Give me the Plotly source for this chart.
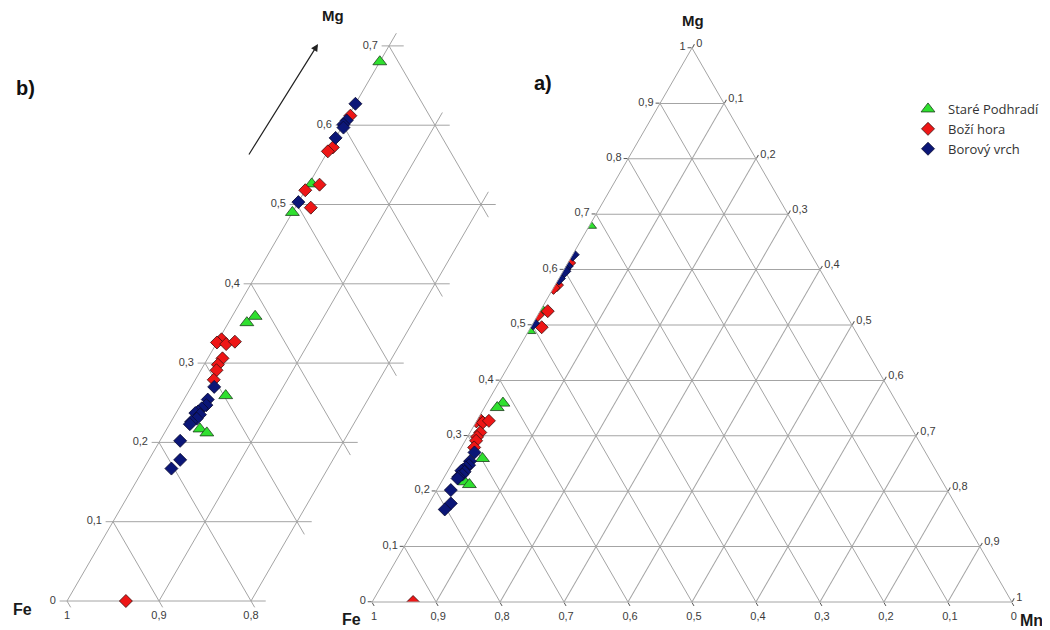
import plotly.graph_objects as go

# ---------------- data ----------------
series_names = ["Staré Podhradí", "Boží hora", "Borový vrch"]

sp_mg = [0.680, 0.526, 0.490, 0.359, 0.351, 0.259, 0.217, 0.212]
sp_mn = [0.000, 0.003, 0.000, 0.025, 0.020, 0.043, 0.036, 0.046]
sp_fe = [0.320, 0.471, 0.510, 0.616, 0.629, 0.698, 0.747, 0.742]

bh_mg = [0.000, 0.612, 0.572, 0.567, 0.525, 0.518, 0.496, 0.330, 0.326, 0.324, 0.327, 0.306, 0.298, 0.291, 0.279]
bh_mn = [0.064, 0.002, 0.003, 0.000, 0.012, 0.000, 0.017, 0.003, 0.000, 0.011, 0.019, 0.016, 0.015, 0.017, 0.020]
bh_fe = [0.936, 0.386, 0.425, 0.433, 0.463, 0.482, 0.487, 0.667, 0.674, 0.665, 0.654, 0.678, 0.687, 0.692, 0.701]

bv_mg = [0.627, 0.606, 0.601, 0.597, 0.584, 0.503, 0.270, 0.254, 0.247, 0.243, 0.239, 0.237, 0.235, 0.230, 0.226, 0.223, 0.202, 0.178, 0.167]
bv_mn = [0.000, 0.001, 0.000, 0.002, 0.000, 0.000, 0.025, 0.026, 0.028, 0.025, 0.023, 0.021, 0.027, 0.026, 0.022, 0.022, 0.022, 0.034, 0.030]
bv_fe = [0.373, 0.393, 0.399, 0.401, 0.416, 0.497, 0.705, 0.720, 0.725, 0.732, 0.738, 0.742, 0.738, 0.744, 0.752, 0.755, 0.776, 0.788, 0.803]

# zoomed panel b) axis ticks
b_mg_ticks = [0.0, 0.1, 0.2, 0.3, 0.4, 0.5, 0.6, 0.7]
b_mg_labels = ["0", "0,1", "0,2", "0,3", "0,4", "0,5", "0,6", "0,7"]
b_fe_ticks = [1.0, 0.9, 0.8]
b_fe_labels = ["1", "0,9", "0,8"]
b_fe_grid = [0.9, 0.8, 0.7, 0.6, 0.5, 0.4, 0.3]
b_mn_grid = [0.0, 0.1, 0.2]
b_mn_max = 0.2
b_fe_min = 0.3

# ---------------- styles ----------------
GRID = "#a4a4a4"
TICKC = "#3c3c3c"
TICKFONT = dict(family="Liberation Sans, Arial", size=11, color=TICKC)
TITLEFONT = dict(family="Liberation Sans, Arial", size=15, color="#1a1a1a")
styles = [
    dict(symbol="triangle-up", size=12, color="#2fe02f", line=dict(color="#1d3d1d", width=0.8)),
    dict(symbol="diamond", size=10, color="#ee1616", line=dict(color="#3a1010", width=0.8)),
    dict(symbol="diamond", size=10, color="#0b1677", line=dict(color="#0a0a30", width=0.8)),
]
data = [(sp_fe, sp_mg, sp_mn), (bh_fe, bh_mg, bh_mn), (bv_fe, bv_mg, bv_mn)]

# the page has an 8px body margin: the figure is laid out in reference pixels minus OFF
OFF = 8
W, H = 1050 - OFF, 630 - OFF


def px(x):
    return (x - OFF) / W


def py(y):
    return 1 - (y - OFF) / H


def to_xy(mg, mn):
    # cartesian projection of a ternary point (Fe corner at origin)
    return mn + mg / 2.0, mg


fig = go.Figure()

# ---------------- panel b) : zoomed Fe-Mg corner ----------------
ext = 0.016
tick = 0.008
gx, gy = [], []


def seg(p1, p2):
    x1, y1 = to_xy(*p1)
    x2, y2 = to_xy(*p2)
    gx.extend([x1, x2, None])
    gy.extend([y1, y2, None])


for mg in b_mg_ticks:
    mn_end = min(b_mn_max, round(1 - b_fe_min - mg, 6)) + ext
    seg((mg, -tick), (mg, mn_end))
for mn in b_mn_grid:
    seg((0.0, mn), (round(1 - b_fe_min - mn, 6) + ext, mn))
for fe in b_fe_grid:
    s = round(1 - fe, 6)
    mn_end = min(b_mn_max, s)
    mg_end = s - mn_end
    if mg_end > 1e-9:
        seg((s, 0.0), (mg_end - ext, mn_end + ext))
    else:
        seg((s, 0.0), (mg_end, mn_end))
for fe in b_fe_ticks:
    mn = round(1 - fe, 6)
    seg((0.0, mn), (-tick, mn + tick))

fig.add_trace(go.Scatter(x=gx, y=gy, mode="lines", line=dict(color=GRID, width=1),
                         hoverinfo="skip", showlegend=False, xaxis="x", yaxis="y"))

lx, ly = [], []
for mg in b_mg_ticks:
    x, y = to_xy(mg, -0.012)
    lx.append(x); ly.append(y)
fig.add_trace(go.Scatter(x=lx, y=ly, mode="text", text=b_mg_labels, textposition="middle left",
                         textfont=TICKFONT, hoverinfo="skip", showlegend=False))
bx, by = [], []
for fe in b_fe_ticks:
    x, y = to_xy(-0.012, round(1 - fe, 6) + 0.006)
    bx.append(x); by.append(y)
fig.add_trace(go.Scatter(x=bx, y=by, mode="text", text=b_fe_labels, textposition="bottom center",
                         textfont=TICKFONT, hoverinfo="skip", showlegend=False))

for (fe, mg, mn), st in zip(data, styles):
    xs = [to_xy(g, n)[0] for g, n in zip(mg, mn)]
    ys = [to_xy(g, n)[1] for g, n in zip(mg, mn)]
    fig.add_trace(go.Scatter(x=xs, y=ys, mode="markers", marker=st, cliponaxis=False,
                             showlegend=False, hoverinfo="skip"))

# ---------------- panel a) : full ternary ----------------
for name, (fe, mg, mn), st in zip(series_names, data, styles):
    fig.add_trace(go.Scatterternary(a=mg, b=fe, c=mn, mode="markers", name=name,
                                    marker=st, subplot="ternary"))

ax_common = dict(tick0=0, dtick=0.1, ticks="outside", ticklen=4, tickcolor="#555",
                 showgrid=True, gridcolor=GRID, gridwidth=1, showline=True,
                 linecolor=GRID, linewidth=1, tickfont=TICKFONT, min=0, title=dict(text=""))

# panel b cartesian frame (reference pixels): Fe corner at (67, 601), 920 px per unit across, 793 px per unit Mg
bx0, by0, sx, sy = 67, 601, 920, 793
b_left, b_right = OFF, 504
b_top, b_bottom = OFF, 630

fig.update_layout(
    width=W, height=H,
    margin=dict(l=0, r=0, t=0, b=0),
    paper_bgcolor="white", plot_bgcolor="rgba(0,0,0,0)",
    separators=", ",
    xaxis=dict(domain=[px(b_left), px(b_right)],
               range=[(b_left - bx0) / sx, (b_right - bx0) / sx], visible=False, fixedrange=True),
    yaxis=dict(domain=[py(b_bottom), py(b_top)],
               range=[(by0 - b_bottom) / sy, (by0 - b_top) / sy], visible=False, fixedrange=True),
    ternary=dict(
        sum=1,
        domain=dict(x=[px(371), px(1013)], y=[py(602), py(48)]),
        bgcolor="rgba(0,0,0,0)",
        aaxis=ax_common, baxis=ax_common, caxis=ax_common,
    ),
    legend=dict(x=px(908), y=py(94), xanchor="left", yanchor="top", bgcolor="rgba(0,0,0,0)",
                font=dict(family="Open Sans, Lato", size=13, color="#333"),
                itemsizing="trace", tracegroupgap=0),
    annotations=[
        dict(text="<b>b)</b>", x=px(14), y=py(88), xref="paper", yref="paper",
             xanchor="left", yanchor="middle", showarrow=False,
             font=dict(family="Liberation Sans, Arial", size=20, color="#111")),
        dict(text="<b>a)</b>", x=px(532), y=py(83), xref="paper", yref="paper",
             xanchor="left", yanchor="middle", showarrow=False,
             font=dict(family="Liberation Sans, Arial", size=20, color="#111")),
        dict(text="<b>Mg</b>", x=px(333), y=py(16), xref="paper", yref="paper",
             xanchor="center", yanchor="middle", showarrow=False, font=TITLEFONT),
        dict(text="<b>Fe</b>", x=px(22), y=py(609), xref="paper", yref="paper",
             xanchor="center", yanchor="middle", showarrow=False,
             font=dict(family="Liberation Sans, Arial", size=16, color="#1a1a1a")),
        dict(text="<b>Mg</b>", x=px(693), y=py(20), xref="paper", yref="paper",
             xanchor="center", yanchor="middle", showarrow=False, font=TITLEFONT),
        dict(text="<b>Fe</b>", x=px(351), y=py(619), xref="paper", yref="paper",
             xanchor="center", yanchor="middle", showarrow=False,
             font=dict(family="Liberation Sans, Arial", size=16, color="#1a1a1a")),
        dict(text="<b>Mn</b>", x=px(1031), y=py(620), xref="paper", yref="paper",
             xanchor="center", yanchor="middle", showarrow=False,
             font=dict(family="Liberation Sans, Arial", size=16, color="#1a1a1a")),
        dict(text="", x=px(318), y=py(44), xref="paper", yref="paper",
             ax=-70, ay=112, axref="pixel", ayref="pixel", showarrow=True,
             arrowhead=2, arrowsize=1.2, arrowwidth=1.2, arrowcolor="#222"),
    ],
)

fig.write_html("out.html")
